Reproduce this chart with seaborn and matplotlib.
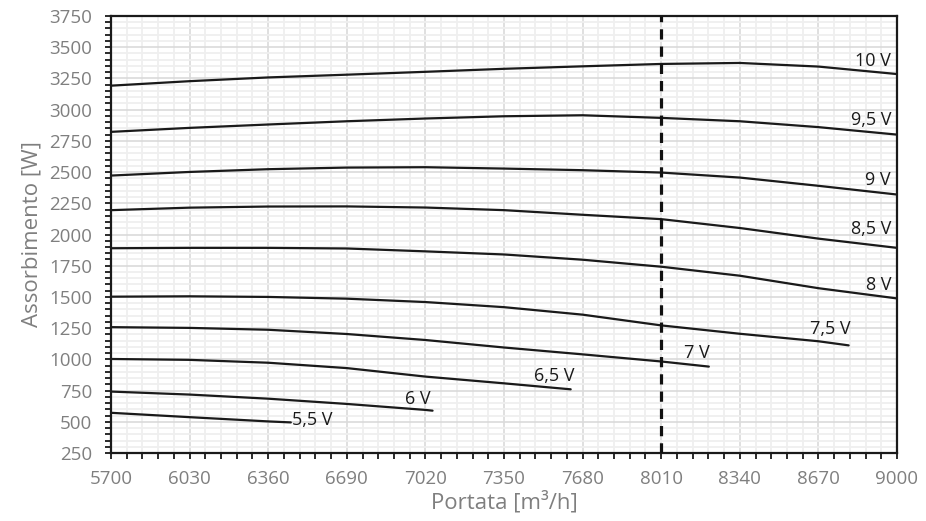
import pandas as pd
import matplotlib.pyplot as plt
import seaborn as sns

# flow points (m3/h)
portata = [5700, 6030, 6360, 6690, 7020, 7350, 7680, 8010, 8340, 8670, 9000]

# absorbed power [W] for each control voltage
p_10v = [3192, 3228, 3258, 3280, 3303, 3327, 3347, 3366, 3374, 3345, 3285]
p_95v = [2822, 2854, 2881, 2907, 2929, 2947, 2955, 2934, 2907, 2860, 2800]
p_9v = [2472, 2501, 2523, 2536, 2539, 2528, 2515, 2496, 2456, 2390, 2320]
p_85v = [2195, 2215, 2224, 2225, 2216, 2195, 2158, 2123, 2052, 1967, 1893]
p_8v = [1890, 1893, 1893, 1888, 1865, 1840, 1798, 1742, 1670, 1570, 1488]
p_75v = [1502, 1505, 1500, 1486, 1459, 1418, 1358, 1272, 1205, 1145, 1112]
p_7v = [1258, 1252, 1237, 1203, 1155, 1095, 1040, 983, 942]
p_65v = [1003, 996, 973, 930, 862, 808, 760]
p_6v = [742, 718, 685, 643, 595, 589]
p_55v = [572, 537, 503, 495]

# the shorter curves stop at these flows
fine_75v = 8797
fine_7v = 8210
fine_65v = 7630
fine_6v = 7050
fine_55v = 6455

etichette = ["10 V", "9,5 V", "9 V", "8,5 V", "8 V", "7,5 V", "7 V", "6,5 V", "6 V", "5,5 V"]
portata_nominale = 8010

x_ticks = [5700, 6030, 6360, 6690, 7020, 7350, 7680, 8010, 8340, 8670, 9000]

curve = [
    (portata, p_10v),
    (portata, p_95v),
    (portata, p_9v),
    (portata, p_85v),
    (portata, p_8v),
    (portata[:10] + [fine_75v], p_75v),
    (portata[:8] + [fine_7v], p_7v),
    (portata[:6] + [fine_65v], p_65v),
    (portata[:5] + [fine_6v], p_6v),
    (portata[:3] + [fine_55v], p_55v),
]

rows = []
for lab, (xs, ys) in zip(etichette, curve):
    for x, y in zip(xs, ys):
        rows.append({"tensione": lab, "portata": x, "potenza": y})
df = pd.DataFrame(rows)

sns.set_theme(style="white")
plt.rcParams["font.family"] = ["Open Sans", "DejaVu Sans"]

fig = plt.figure(figsize=(9.26, 5.21), dpi=100)
ax = fig.add_axes([111 / 926, 68 / 521, 786 / 926, 437 / 521])

for lab in etichette:
    sns.lineplot(data=df[df["tensione"] == lab], x="portata", y="potenza",
                 color="#1a1a1a", linewidth=1.6, sort=False, ax=ax)

ax.axvline(portata_nominale, color="#111111", linewidth=2.3, dashes=(3.2, 2.2), zorder=3)

# curve labels (positions in data coords, tuned by eye)
pos = {
    "10 V": (8975, 3350, "right"),
    "9,5 V": (8975, 2877, "right"),
    "9 V": (8975, 2397, "right"),
    "8,5 V": (8975, 2004, "right"),
    "8 V": (8975, 1556, "right"),
    "7,5 V": (8805, 1203, "right"),
    "7 V": (8215, 1011, "right"),
    "6,5 V": (7645, 827, "right"),
    "6 V": (7040, 643, "right"),
    "5,5 V": (6462, 478, "left"),
}
for lab in etichette:
    x, y, ha = pos[lab]
    ax.text(x, y, lab, ha=ha, va="baseline", fontsize=13, color="#1a1a1a")

ax.set_xlim(5700, 9000)
ax.set_ylim(250, 3750)
ax.set_xticks(x_ticks)
ax.set_xticks(range(5700, 9001, 66), minor=True)
ax.set_yticks(range(250, 3751, 250))
ax.set_yticks(range(250, 3751, 50), minor=True)

ax.grid(which="major", color="#dadada", linewidth=1.2)
ax.grid(which="minor", color="#efefef", linewidth=1.3)
ax.set_axisbelow(True)

for s in ax.spines.values():
    s.set_color("#1a1a1a")
    s.set_linewidth(1.6)

ax.tick_params(which="both", direction="out", length=4.5, width=1.3, color="#1a1a1a",
               bottom=True, left=True, top=False, right=False)
ax.tick_params(axis="x", which="major", labelsize=13.5, labelcolor="#7f7f7f", pad=8)
ax.tick_params(axis="y", which="major", labelsize=13.5, labelcolor="#7f7f7f", pad=9)

ax.set_xlabel("Portata [m³/h]", fontsize=16, color="#7f7f7f", labelpad=2)
ax.set_ylabel("Assorbimento [W]", fontsize=16, color="#7f7f7f", labelpad=5)

fig.savefig("out.png", dpi=100)
